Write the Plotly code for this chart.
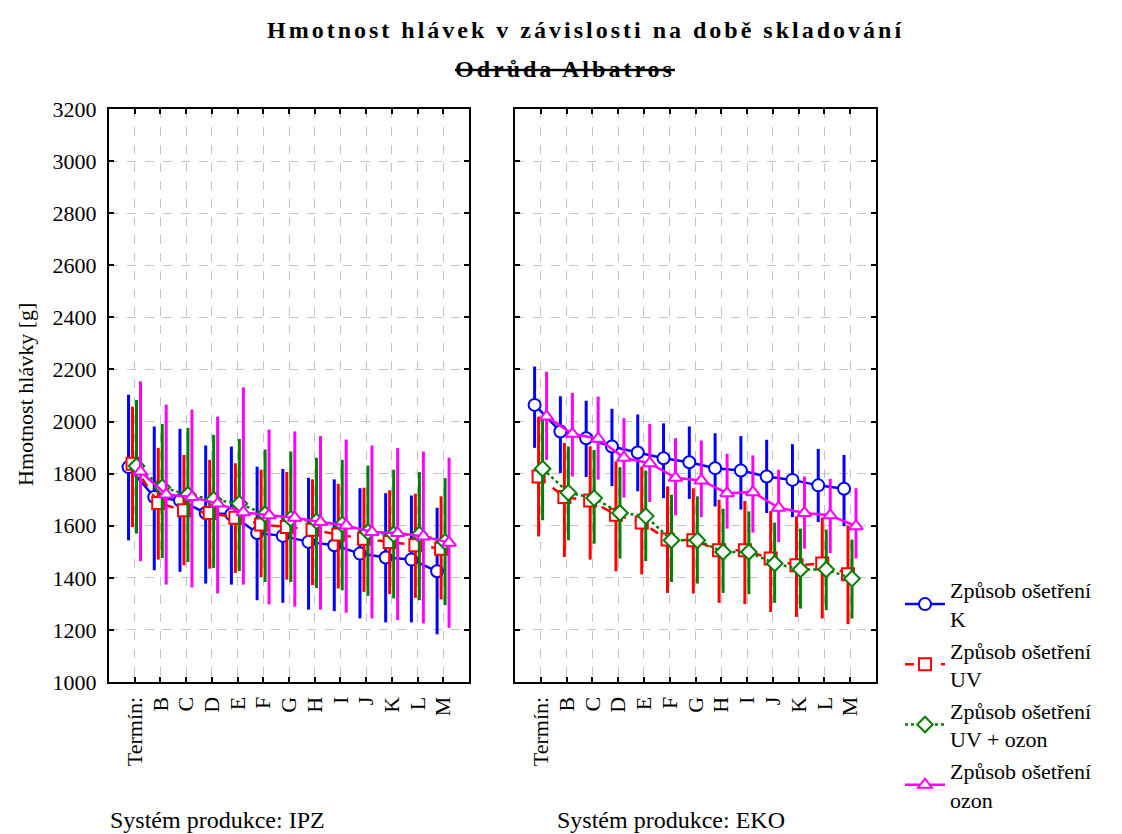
import plotly.graph_objects as go

# ---------------- data ----------------
terms = ["Termín:", "B", "C", "D", "E", "F", "G", "H", "I", "J", "K", "L", "M"]
treatments = ["Způsob ošetření<br>K", "Způsob ošetření<br>UV",
              "Způsob ošetření<br>UV + ozon", "Způsob ošetření<br>ozon"]

# IPZ
ipz_k_mean = [1825, 1710, 1697, 1649, 1644, 1572, 1561, 1538, 1525, 1493, 1478, 1470, 1425]
ipz_k_lo   = [1544, 1429, 1423, 1378, 1374, 1314, 1304, 1278, 1272, 1244, 1229, 1229, 1183]
ipz_k_hi   = [2103, 1981, 1972, 1908, 1904, 1827, 1818, 1784, 1778, 1744, 1725, 1716, 1669]

ipz_uv_mean = [1838, 1687, 1659, 1649, 1631, 1605, 1595, 1585, 1566, 1550, 1538, 1525, 1512]
ipz_uv_lo   = [1595, 1470, 1448, 1435, 1419, 1403, 1393, 1372, 1359, 1346, 1337, 1323, 1317]
ipz_uv_hi   = [2057, 1899, 1872, 1853, 1840, 1815, 1806, 1778, 1761, 1746, 1736, 1723, 1713]

ipz_uvoz_mean = [1829, 1748, 1719, 1700, 1685, 1644, 1627, 1617, 1605, 1576, 1567, 1566, 1538]
ipz_uvoz_lo   = [1570, 1476, 1461, 1438, 1426, 1384, 1384, 1361, 1352, 1331, 1321, 1314, 1295]
ipz_uvoz_hi   = [2083, 1991, 1976, 1949, 1933, 1893, 1885, 1861, 1853, 1831, 1815, 1806, 1783]

ipz_oz_mean = [1808, 1720, 1710, 1685, 1652, 1640, 1631, 1614, 1601, 1576, 1572, 1559, 1535]
ipz_oz_lo   = [1464, 1374, 1363, 1340, 1374, 1298, 1289, 1278, 1266, 1244, 1238, 1225, 1208]
ipz_oz_hi   = [2154, 2065, 2046, 2019, 2131, 1969, 1962, 1944, 1931, 1908, 1898, 1885, 1861]

# EKO
eko_k_mean = [2064, 1962, 1936, 1904, 1881, 1859, 1844, 1821, 1812, 1789, 1776, 1755, 1742]
eko_k_lo   = [1899, 1802, 1787, 1752, 1732, 1706, 1703, 1674, 1662, 1649, 1633, 1614, 1598]
eko_k_hi   = [2211, 2097, 2080, 2049, 2027, 1993, 1981, 1955, 1944, 1930, 1913, 1895, 1872]

eko_uv_mean = [1789, 1710, 1697, 1642, 1612, 1547, 1544, 1506, 1506, 1474, 1448, 1455, 1414]
eko_uv_lo   = [1559, 1480, 1470, 1425, 1413, 1342, 1340, 1304, 1299, 1269, 1250, 1244, 1222]
eko_uv_hi   = [2019, 1918, 1905, 1847, 1827, 1751, 1744, 1700, 1695, 1656, 1636, 1631, 1601]

eko_uvoz_mean = [1819, 1727, 1706, 1649, 1637, 1544, 1544, 1499, 1499, 1455, 1432, 1432, 1397]
eko_uvoz_lo   = [1621, 1544, 1531, 1474, 1464, 1384, 1378, 1342, 1337, 1304, 1282, 1276, 1244]
eko_uvoz_hi   = [2006, 1904, 1891, 1825, 1812, 1719, 1713, 1665, 1655, 1612, 1589, 1585, 1547]

eko_oz_mean = [2019, 1953, 1934, 1861, 1840, 1784, 1774, 1725, 1729, 1669, 1649, 1640, 1598]
eko_oz_lo   = [1853, 1789, 1777, 1708, 1691, 1640, 1633, 1589, 1573, 1537, 1512, 1495, 1474]
eko_oz_hi   = [2191, 2110, 2096, 2013, 1991, 1936, 1927, 1876, 1870, 1815, 1789, 1780, 1744]

# ---------------- styles ----------------
colors = ["#0000FF", "#FF0000", "#008000", "#FF00FF"]
symbols = ["circle", "square", "diamond", "triangle-up"]
dashes = ["solid", "dash", "dot", "solid"]
offsets = [-0.24, -0.085, 0.07, 0.225]
FONT = "Liberation Serif"

panels = [
    ("x", "y", [(ipz_k_mean, ipz_k_lo, ipz_k_hi), (ipz_uv_mean, ipz_uv_lo, ipz_uv_hi),
                (ipz_uvoz_mean, ipz_uvoz_lo, ipz_uvoz_hi), (ipz_oz_mean, ipz_oz_lo, ipz_oz_hi)], True),
    ("x2", "y2", [(eko_k_mean, eko_k_lo, eko_k_hi), (eko_uv_mean, eko_uv_lo, eko_uv_hi),
                  (eko_uvoz_mean, eko_uvoz_lo, eko_uvoz_hi), (eko_oz_mean, eko_oz_lo, eko_oz_hi)], False),
]

fig = go.Figure()
for xa, ya, series, show in panels:
    for i, (mean, lo, hi) in enumerate(series):
        xs = [k + 1 + offsets[i] for k in range(len(terms))]
        fig.add_trace(go.Scatter(
            x=xs, y=mean, xaxis=xa, yaxis=ya,
            mode="lines+markers",
            name=treatments[i], legendgroup=str(i), showlegend=show,
            line=dict(color=colors[i], width=2.5, dash=dashes[i]),
            marker=dict(symbol=symbols[i], size=12, color="white",
                        line=dict(color=colors[i], width=2)),
            error_y=dict(type="data", symmetric=False,
                         array=[h - m for h, m in zip(hi, mean)],
                         arrayminus=[m - l for m, l in zip(mean, lo)],
                         color=colors[i], thickness=3, width=0),
        ))

# page body has an 8px margin: work in screen pixels and shift
OFF = 8
W, H = 1122, 860
L, T = 109 - OFF, 109 - OFF
RIGHT, BOTTOM = 876 - OFF, 682 - OFF
R, B = W - RIGHT, H - BOTTOM
pw = W - L - R
ph = H - T - B

def px(x):
    return (x - OFF - L) / pw

def py(y):
    return (BOTTOM - (y - OFF)) / ph

axis_common = dict(
    showline=True, linecolor="black", linewidth=2, mirror="ticks",
    ticks="inside", ticklen=5, tickwidth=2, tickcolor="black",
    showgrid=True, gridcolor="#c4c4c4", griddash="dash", gridwidth=1,
    zeroline=False,
)
xaxis_common = dict(axis_common, range=[0, 14], tickmode="array",
                    tickvals=list(range(1, len(terms) + 1)), ticktext=terms,
                    tickangle=-90, ticklabelstandoff=4,
                    tickfont=dict(family=FONT, size=22, color="black"))
yaxis_common = dict(axis_common, range=[1000, 3200], tickmode="linear", tick0=1000, dtick=200,
                    ticklabelstandoff=6,
                    tickfont=dict(family=FONT, size=22, color="black"))

fig.update_layout(
    width=W, height=H,
    margin=dict(l=L, r=R, t=T, b=B),
    paper_bgcolor="white", plot_bgcolor="white",
    font=dict(family=FONT, size=20, color="black"),
    xaxis=dict(xaxis_common, domain=[0, px(469)], anchor="y"),
    xaxis2=dict(xaxis_common, domain=[px(515), 1], anchor="y2"),
    yaxis=dict(yaxis_common, domain=[0, 1], anchor="x"),
    yaxis2=dict(yaxis_common, domain=[0, 1], anchor="x2", showticklabels=False),
    legend=dict(x=px(900), y=py(569), xanchor="left", yanchor="top",
                font=dict(family=FONT, size=22, color="black"),
                bgcolor="rgba(0,0,0,0)", itemwidth=40, tracegroupgap=0),
    showlegend=True,
)

annotations = [
    dict(text='<b><span style="letter-spacing:3px">Hmotnost hlávek v závislosti na době skladování</span></b>',
         x=px(585), y=py(30), font=dict(size=24)),
    dict(text='<b><s><span style="letter-spacing:3px">Odrůda Albatros</span></s></b>',
         x=px(565), y=py(69), font=dict(size=24)),
    dict(text="Hmotnost hlávky [g]", x=px(25), y=py(395), textangle=-90, font=dict(size=22)),
    dict(text="Systém produkce: IPZ", x=px(108), y=py(820), xanchor="left", font=dict(size=24)),
    dict(text="Systém produkce: EKO", x=px(555), y=py(820), xanchor="left", font=dict(size=24)),
]
for a in annotations:
    a.setdefault("xanchor", "center")
    a.update(xref="paper", yref="paper", yanchor="middle", showarrow=False)
    a["font"].update(family=FONT, color="black")
fig.update_layout(annotations=annotations)

fig.write_html("out.html")
